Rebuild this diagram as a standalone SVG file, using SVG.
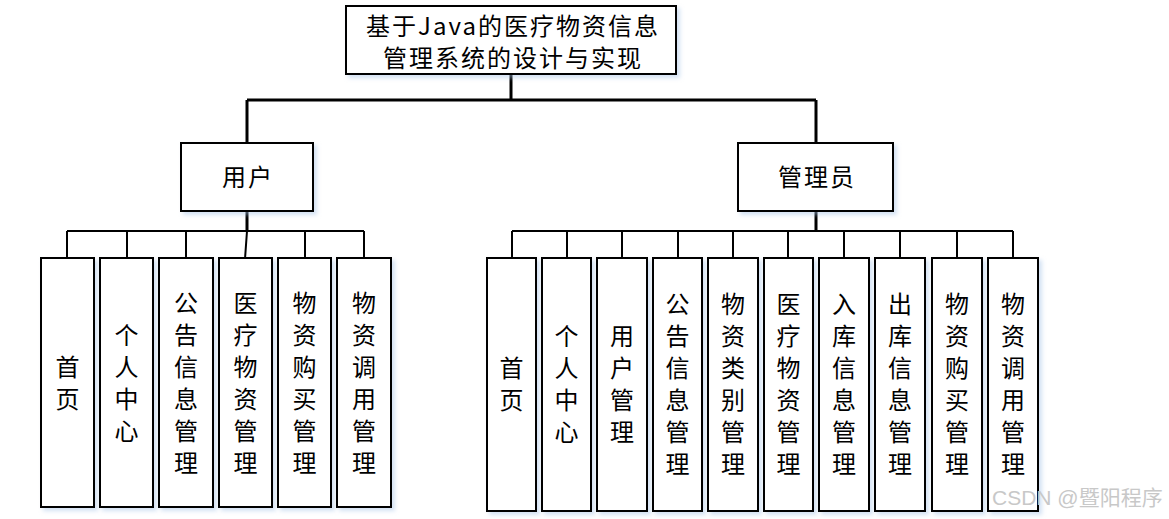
<svg xmlns="http://www.w3.org/2000/svg" width="1169" height="519" viewBox="0 0 1169 519">
<defs>
<filter id="sh" x="-20%" y="-20%" width="140%" height="140%">
<feDropShadow dx="3" dy="3" stdDeviation="2" flood-color="#a8c4e8" flood-opacity="0.5"/>
</filter>
</defs>
<style>
.box{fill:#fff;stroke:#000;stroke-width:2;filter:url(#sh)}
.t{font-family:"Noto Sans CJK SC","Liberation Serif",serif;font-size:24px;fill:#000;text-anchor:middle;dominant-baseline:central}
.lf{font-family:"Noto Sans CJK SC","Liberation Serif",serif;font-size:24px;fill:#000;text-anchor:middle;dominant-baseline:central}
.ln{fill:none;stroke:#000;stroke-width:2}
.ln2{fill:none;stroke:#000;stroke-width:3}
.wm{font-family:"Liberation Sans","Noto Sans CJK SC",sans-serif;font-size:21px;fill:#c8c8c8}
</style>
<rect width="1169" height="519" fill="#fff"/>
<g id="connectors">
<path class="ln2" d="M511 74V100M247 100H816M247 100V143M816 100V143"/>
<path class="ln2" d="M247 211V231M816 211V231"/>
<path class="ln" d="M67 231H364M67 231V259M127 231V259M186 231V259M247 231L245 259M305 231V259M364 231V259"/>
<path class="ln" d="M512 231H1013M512 231V259M567 231V259M622 231V259M678 231V259M733 231V259M788 231V259M844 231V259M900 231V259M957 231V259M1013 231V259"/>
</g>
<g id="root">
<rect class="box" x="346" y="6" width="330" height="68"/>
<text class="t" x="513" y="24" letter-spacing="2">基于Java的医疗物资信息</text>
<text class="t" x="513" y="56" letter-spacing="2">管理系统的设计与实现</text>
</g>
<g id="user">
<rect class="box" x="181" y="143" width="132" height="68"/>
<text class="t" x="248" y="175" letter-spacing="2">用户</text>
</g>
<g id="admin">
<rect class="box" x="738" y="143" width="155" height="68"/>
<text class="t" x="817" y="175" letter-spacing="2">管理员</text>
</g>
<g id="u1"><rect class="box" x="41" y="258" width="53" height="249"/><text class="lf"><tspan x="67.5" y="365">首</tspan><tspan x="67.5" y="397">页</tspan></text></g>
<g id="u2"><rect class="box" x="100" y="258" width="53" height="249"/><text class="lf"><tspan x="126.5" y="333">个</tspan><tspan x="126.5" y="365">人</tspan><tspan x="126.5" y="397">中</tspan><tspan x="126.5" y="429">心</tspan></text></g>
<g id="u3"><rect class="box" x="159" y="258" width="54" height="249"/><text class="lf"><tspan x="186" y="301">公</tspan><tspan x="186" y="333">告</tspan><tspan x="186" y="365">信</tspan><tspan x="186" y="397">息</tspan><tspan x="186" y="429">管</tspan><tspan x="186" y="461">理</tspan></text></g>
<g id="u4"><rect class="box" x="219" y="258" width="53" height="249"/><text class="lf"><tspan x="245.5" y="301">医</tspan><tspan x="245.5" y="333">疗</tspan><tspan x="245.5" y="365">物</tspan><tspan x="245.5" y="397">资</tspan><tspan x="245.5" y="429">管</tspan><tspan x="245.5" y="461">理</tspan></text></g>
<g id="u5"><rect class="box" x="278" y="258" width="53" height="249"/><text class="lf"><tspan x="304.5" y="301">物</tspan><tspan x="304.5" y="333">资</tspan><tspan x="304.5" y="365">购</tspan><tspan x="304.5" y="397">买</tspan><tspan x="304.5" y="429">管</tspan><tspan x="304.5" y="461">理</tspan></text></g>
<g id="u6"><rect class="box" x="337" y="258" width="54" height="249"/><text class="lf"><tspan x="364" y="301">物</tspan><tspan x="364" y="333">资</tspan><tspan x="364" y="365">调</tspan><tspan x="364" y="397">用</tspan><tspan x="364" y="429">管</tspan><tspan x="364" y="461">理</tspan></text></g>
<g id="a1"><rect class="box" x="487" y="258" width="49" height="253"/><text class="lf"><tspan x="511.5" y="366">首</tspan><tspan x="511.5" y="398">页</tspan></text></g>
<g id="a2"><rect class="box" x="542" y="258" width="49" height="253"/><text class="lf"><tspan x="566.5" y="334">个</tspan><tspan x="566.5" y="366">人</tspan><tspan x="566.5" y="398">中</tspan><tspan x="566.5" y="430">心</tspan></text></g>
<g id="a3"><rect class="box" x="597" y="258" width="50" height="253"/><text class="lf"><tspan x="622" y="334">用</tspan><tspan x="622" y="366">户</tspan><tspan x="622" y="398">管</tspan><tspan x="622" y="430">理</tspan></text></g>
<g id="a4"><rect class="box" x="653" y="258" width="49" height="253"/><text class="lf"><tspan x="677.5" y="302">公</tspan><tspan x="677.5" y="334">告</tspan><tspan x="677.5" y="366">信</tspan><tspan x="677.5" y="398">息</tspan><tspan x="677.5" y="430">管</tspan><tspan x="677.5" y="462">理</tspan></text></g>
<g id="a5"><rect class="box" x="708" y="258" width="50" height="253"/><text class="lf"><tspan x="733" y="302">物</tspan><tspan x="733" y="334">资</tspan><tspan x="733" y="366">类</tspan><tspan x="733" y="398">别</tspan><tspan x="733" y="430">管</tspan><tspan x="733" y="462">理</tspan></text></g>
<g id="a6"><rect class="box" x="764" y="258" width="49" height="253"/><text class="lf"><tspan x="788.5" y="302">医</tspan><tspan x="788.5" y="334">疗</tspan><tspan x="788.5" y="366">物</tspan><tspan x="788.5" y="398">资</tspan><tspan x="788.5" y="430">管</tspan><tspan x="788.5" y="462">理</tspan></text></g>
<g id="a7"><rect class="box" x="819" y="258" width="50" height="253"/><text class="lf"><tspan x="844" y="302">入</tspan><tspan x="844" y="334">库</tspan><tspan x="844" y="366">信</tspan><tspan x="844" y="398">息</tspan><tspan x="844" y="430">管</tspan><tspan x="844" y="462">理</tspan></text></g>
<g id="a8"><rect class="box" x="875" y="258" width="50" height="253"/><text class="lf"><tspan x="900" y="302">出</tspan><tspan x="900" y="334">库</tspan><tspan x="900" y="366">信</tspan><tspan x="900" y="398">息</tspan><tspan x="900" y="430">管</tspan><tspan x="900" y="462">理</tspan></text></g>
<g id="a9"><rect class="box" x="932" y="258" width="50" height="253"/><text class="lf"><tspan x="957" y="302">物</tspan><tspan x="957" y="334">资</tspan><tspan x="957" y="366">购</tspan><tspan x="957" y="398">买</tspan><tspan x="957" y="430">管</tspan><tspan x="957" y="462">理</tspan></text></g>
<g id="a10"><rect class="box" x="988" y="258" width="50" height="253"/><text class="lf"><tspan x="1013" y="302">物</tspan><tspan x="1013" y="334">资</tspan><tspan x="1013" y="366">调</tspan><tspan x="1013" y="398">用</tspan><tspan x="1013" y="430">管</tspan><tspan x="1013" y="462">理</tspan></text></g>
<text class="wm" x="992" y="505">CSDN @暨阳程序</text>
</svg>
